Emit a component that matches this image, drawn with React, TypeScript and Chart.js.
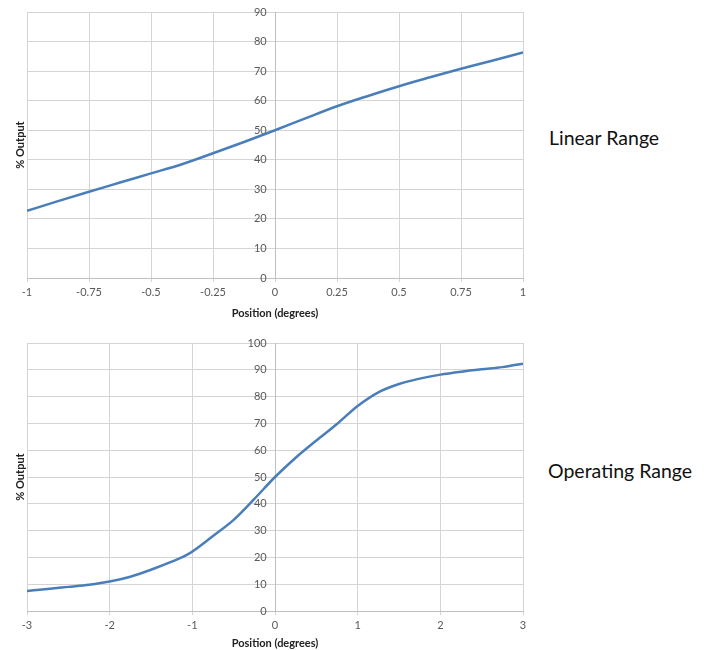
import { useEffect, useRef } from "react";
import { Chart, registerables } from "chart.js";

Chart.register(...registerables);

// Linear range chart data
const linearX = [-1, -0.875, -0.75, -0.625, -0.5, -0.375, -0.25, -0.125, 0, 0.125, 0.25, 0.375, 0.5, 0.625, 0.75, 0.875, 1];
const linearY = [22.7, 26.0, 29.2, 32.3, 35.4, 38.5, 42.2, 46.0, 50.0, 54.1, 58.1, 61.6, 64.9, 67.9, 70.8, 73.5, 76.3];
const linearXTicks = [-1, -0.75, -0.5, -0.25, 0, 0.25, 0.5, 0.75, 1];
const linearYMax = 90;

// Operating range chart data
const operatingX = [-3, -2.75, -2.5, -2.25, -2, -1.75, -1.5, -1.25, -1.05, -0.75, -0.5, -0.25, 0, 0.25, 0.5, 0.75, 1, 1.25, 1.5, 1.75, 2, 2.25, 2.5, 2.75, 3];
const operatingY = [7.5, 8.2, 9.0, 9.8, 11.0, 12.8, 15.4, 18.4, 21.2, 28.0, 34.0, 41.8, 50.0, 57.2, 63.6, 69.8, 76.5, 81.6, 84.7, 86.7, 88.2, 89.3, 90.2, 91.0, 92.3];
const operatingXTicks = [-3, -2, -1, 0, 1, 2, 3];
const operatingYMax = 100;

const FONT = "Lato, 'Open Sans', sans-serif";

type BoxProps = {
  xs: number[];
  ys: number[];
  xTicks: number[];
  yMax: number;
  top: number;
  padTop: number;
  axisH: number;
};

function ChartBox({ xs, ys, xTicks, yMax, top, padTop, axisH }: BoxProps) {
  const ref = useRef<HTMLCanvasElement | null>(null);
  useEffect(() => {
    if (!ref.current) return;
    const yTitle = {
      id: "yTitle",
      afterDraw(chart: any) {
        const { ctx, chartArea } = chart;
        ctx.save();
        ctx.translate(chartArea.left - 7, (chartArea.top + chartArea.bottom) / 2);
        ctx.rotate(-Math.PI / 2);
        ctx.font = `bold 11px ${FONT}`;
        ctx.fillStyle = "#222";
        ctx.textAlign = "center";
        ctx.textBaseline = "middle";
        ctx.fillText("% Output", 0, 0);
        ctx.restore();
      },
    };
    const chart = new Chart(ref.current, {
      type: "line",
      data: {
        datasets: [
          {
            data: xs.map((x, i) => ({ x, y: ys[i] })),
            borderColor: "#4A7EBB",
            borderWidth: 2.5,
            pointRadius: 0,
            cubicInterpolationMode: "monotone",
            fill: false,
          },
        ],
      },
      options: {
        responsive: false,
        animation: false,
        devicePixelRatio: 1,
        layout: { padding: { left: 27, right: 17, top: padTop, bottom: 0 } },
        plugins: { legend: { display: false }, tooltip: { enabled: false } },
        scales: {
          x: {
            type: "linear",
            min: xTicks[0],
            max: xTicks[xTicks.length - 1],
            afterBuildTicks: (s: any) => {
              s.ticks = xTicks.map((v) => ({ value: v }));
            },
            afterFit: (s: any) => {
              s.height = axisH;
            },
            grid: { color: "#d4d4d4", lineWidth: 1, tickLength: 4, drawTicks: true },
            border: { color: "#bfbfbf" },
            ticks: {
              color: "#595959",
              font: { family: FONT, size: 11 },
              padding: 4,
              maxRotation: 0,
              autoSkip: false,
              callback: (v: any) => String(Math.round(Number(v) * 100) / 100),
            },
            title: {
              display: true,
              text: "Position (degrees)",
              color: "#222",
              font: { family: FONT, size: 11, weight: "bold" },
              padding: { top: 2, bottom: 0 },
            },
          },
          y: {
            type: "linear",
            position: { x: 0 } as any,
            min: 0,
            max: yMax,
            ticks: {
              stepSize: 10,
              color: "#595959",
              font: { family: FONT, size: 11 },
              callback: (v: any) => String(v) + "\u2002 ",
            },
            grid: { color: "#d4d4d4", lineWidth: 1, tickLength: 5 },
            border: { color: "#bfbfbf" },
          },
        },
      },
      plugins: [yTitle],
    });
    return () => chart.destroy();
  }, [xs, ys, xTicks, yMax, padTop, axisH]);
  return (
    <canvas
      ref={ref}
      width={540}
      height={320}
      style={{ position: "absolute", left: 0, top, width: 540, height: 320 }}
    />
  );
}

const sideLabel: React.CSSProperties = {
  position: "absolute",
  fontFamily: FONT,
  fontSize: 19.5,
  color: "#111",
  whiteSpace: "nowrap",
  lineHeight: "22px",
};

export default function App() {
  return (
    <div style={{ position: "fixed", left: 0, top: 0, width: 706, height: 650, background: "#fff", overflow: "hidden" }}>
      <ChartBox xs={linearX} ys={linearY} xTicks={linearXTicks} yMax={linearYMax} top={0} padTop={12} axisH={42} />
      <ChartBox xs={operatingX} ys={operatingY} xTicks={operatingXTicks} yMax={operatingYMax} top={330} padTop={13} axisH={39} />
      <div style={{ ...sideLabel, left: 549, top: 127 }}>Linear Range</div>
      <div style={{ ...sideLabel, left: 548, top: 460 }}>Operating Range</div>
    </div>
  );
}
